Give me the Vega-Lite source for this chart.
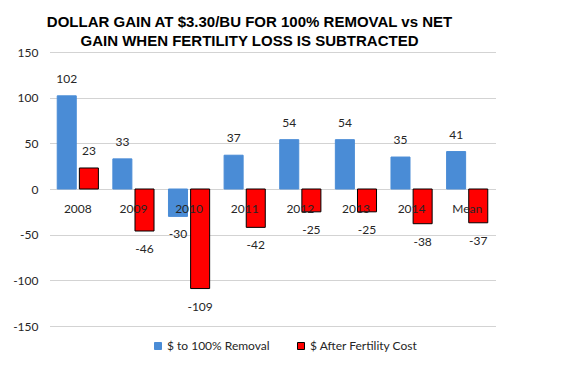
{
  "$schema": "https://vega.github.io/schema/vega-lite/v6.json",
  "autosize": {"type": "none"},
  "width": 445,
  "height": 274,
  "padding": {"left": 50, "top": 52, "right": 84, "bottom": 46},
  "background": "white",
  "title": {
    "text": ["DOLLAR  GAIN AT $3.30/BU  FOR 100%  REMOVAL  vs NET", "GAIN WHEN  FERTILITY  LOSS IS SUBTRACTED"],
    "font": "Liberation Sans",
    "fontSize": 15,
    "fontWeight": "bold",
    "color": "black",
    "anchor": "middle",
    "frame": "group",
    "dx": -23,
    "lineHeight": 19,
    "offset": -3
  },
  "data": {
    "values": [
      {"cat": "2008", "series": "$ to 100% Removal", "value": 102},
      {"cat": "2009", "series": "$ to 100% Removal", "value": 33},
      {"cat": "2010", "series": "$ to 100% Removal", "value": -30},
      {"cat": "2011", "series": "$ to 100% Removal", "value": 37},
      {"cat": "2012", "series": "$ to 100% Removal", "value": 54},
      {"cat": "2013", "series": "$ to 100% Removal", "value": 54},
      {"cat": "2014", "series": "$ to 100% Removal", "value": 35},
      {"cat": "Mean", "series": "$ to 100% Removal", "value": 41},
      {"cat": "2008", "series": "$ After Fertility Cost", "value": 23},
      {"cat": "2009", "series": "$ After Fertility Cost", "value": -46},
      {"cat": "2010", "series": "$ After Fertility Cost", "value": -109},
      {"cat": "2011", "series": "$ After Fertility Cost", "value": -42},
      {"cat": "2012", "series": "$ After Fertility Cost", "value": -25},
      {"cat": "2013", "series": "$ After Fertility Cost", "value": -25},
      {"cat": "2014", "series": "$ After Fertility Cost", "value": -38},
      {"cat": "Mean", "series": "$ After Fertility Cost", "value": -37}
    ]
  },
  "encoding": {
    "x": {
      "field": "cat",
      "type": "nominal",
      "sort": null,
      "scale": {"paddingInner": 0.26, "paddingOuter": 0.13},
      "axis": {
        "title": null,
        "orient": "bottom",
        "offset": -137,
        "domain": false,
        "ticks": false,
        "labelAngle": 0,
        "labelPadding": 14,
        "labelFont": "Lato",
        "labelFontSize": 12,
        "labelColor": "#262626",
        "zindex": 2
      }
    },
    "xOffset": {
      "field": "series",
      "type": "nominal",
      "sort": ["$ to 100% Removal", "$ After Fertility Cost"],
      "scale": {"paddingInner": 0.14, "paddingOuter": 0}
    },
    "y": {
      "field": "value",
      "type": "quantitative",
      "scale": {"domain": [-150, 150], "nice": false},
      "axis": {
        "title": null,
        "values": [-150, -100, -50, 0, 50, 100, 150],
        "labelExpr": "toString(datum.value)",
        "domain": false,
        "ticks": false,
        "labelPadding": 12,
        "labelFont": "Lato",
        "labelFontSize": 12,
        "labelColor": "#262626",
        "gridColor": "#a6a6a6",
        "gridDash": [1, 1],
        "gridWidth": 1
      }
    }
  },
  "layer": [
    {
      "mark": {"type": "bar", "strokeWidth": 1},
      "encoding": {
        "color": {
          "field": "series",
          "type": "nominal",
          "sort": ["$ to 100% Removal", "$ After Fertility Cost"],
          "scale": {"domain": ["$ to 100% Removal", "$ After Fertility Cost"], "range": ["#4A8CD6", "#FF0000"]},
          "legend": {
            "title": null,
            "orient": "none",
            "direction": "horizontal",
            "legendX": 102,
            "legendY": 288,
            "symbolType": "square",
            "symbolSize": 49,
            "symbolStrokeWidth": 1,
            "labelFont": "Lato",
            "labelFontSize": 12,
            "labelColor": "#262626",
            "labelOffset": 3,
            "columnPadding": 25
          }
        },
        "stroke": {
          "field": "series",
          "type": "nominal",
          "sort": ["$ to 100% Removal", "$ After Fertility Cost"],
          "scale": {"domain": ["$ to 100% Removal", "$ After Fertility Cost"], "range": ["#4A8CD6", "#000000"]},
          "legend": null
        }
      }
    },
    {
      "transform": [{"filter": "datum.value >= 0"}],
      "mark": {"type": "text", "baseline": "middle", "dy": -17, "font": "Lato", "fontSize": 12, "color": "#262626"},
      "encoding": {"text": {"field": "value", "type": "nominal"}}
    },
    {
      "transform": [{"filter": "datum.value < 0"}],
      "mark": {"type": "text", "baseline": "middle", "dy": 18, "font": "Lato", "fontSize": 12, "color": "#262626"},
      "encoding": {"text": {"field": "value", "type": "nominal"}}
    }
  ],
  "config": {"view": {"stroke": null}}
}
